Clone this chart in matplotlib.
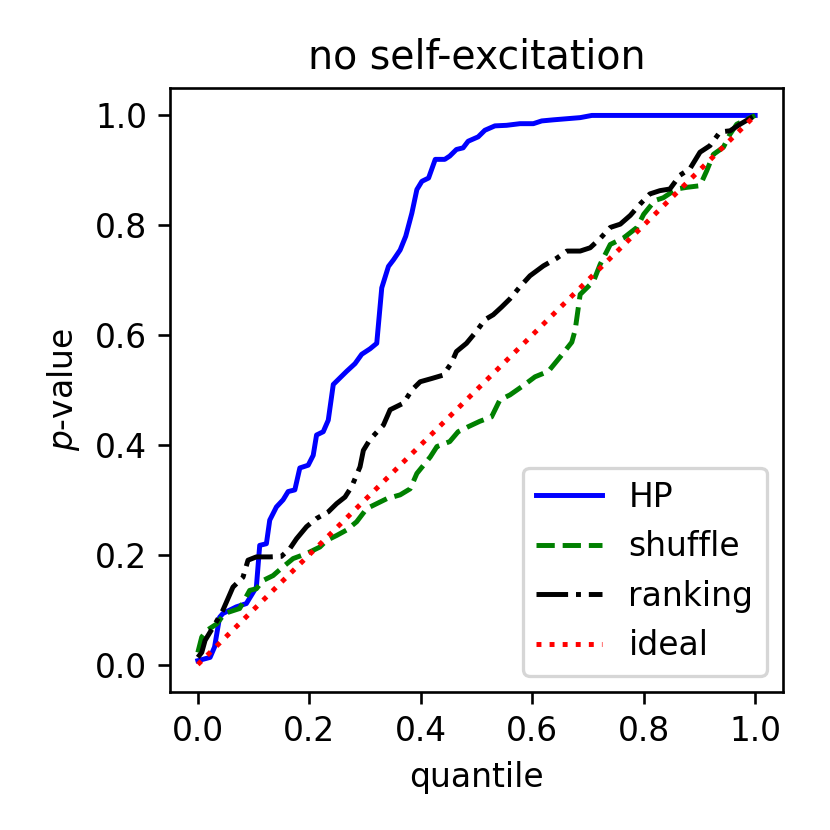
import numpy as np
import matplotlib
matplotlib.use("Agg")
import matplotlib.pyplot as plt

#------------------------------- data ---------------------------

hp_q = [0.0, 0.022, 0.03, 0.039, 0.045, 0.069, 0.087, 0.096, 0.105, 0.111, 0.123,
        0.129, 0.141, 0.153, 0.162, 0.174, 0.183, 0.198, 0.207, 0.213, 0.225, 0.234,
        0.243, 0.255, 0.267, 0.282, 0.294, 0.309, 0.321, 0.33, 0.342, 0.351, 0.363,
        0.373, 0.384, 0.393, 0.402, 0.414, 0.426, 0.443, 0.452, 0.464, 0.476, 0.485,
        0.503, 0.515, 0.533, 0.554, 0.578, 0.602, 0.617, 0.638, 0.662, 0.686, 0.707, 1.0]
hp_p = [0.007, 0.013, 0.032, 0.086, 0.093, 0.105, 0.111, 0.126, 0.141, 0.217, 0.22,
        0.263, 0.287, 0.3, 0.315, 0.318, 0.358, 0.363, 0.381, 0.418, 0.424, 0.445,
        0.51, 0.522, 0.534, 0.548, 0.565, 0.575, 0.585, 0.686, 0.725, 0.737, 0.755,
        0.78, 0.822, 0.865, 0.88, 0.886, 0.92, 0.92, 0.926, 0.938, 0.941, 0.953,
        0.961, 0.973, 0.981, 0.982, 0.985, 0.985, 0.99, 0.992, 0.994, 0.996, 1.0, 1.0]

shuffle_q = [0.0, 0.007, 0.016, 0.034, 0.048, 0.075, 0.093, 0.105, 0.117, 0.135, 0.153,
             0.171, 0.195, 0.219, 0.231, 0.249, 0.267, 0.285, 0.303, 0.321, 0.339, 0.363,
             0.381, 0.393, 0.417, 0.429, 0.452, 0.467, 0.485, 0.506, 0.527, 0.542, 0.56,
             0.584, 0.605, 0.629, 0.65, 0.671, 0.677, 0.686, 0.71, 0.722, 0.74, 0.764,
             0.788, 0.8, 0.82, 0.835, 0.859, 0.877, 0.901, 0.913, 0.925, 0.943, 0.955,
             0.967, 1.0]
shuffle_p = [0.022, 0.05, 0.062, 0.074, 0.093, 0.102, 0.135, 0.138, 0.153, 0.162, 0.178,
             0.193, 0.202, 0.214, 0.226, 0.235, 0.245, 0.26, 0.284, 0.293, 0.302, 0.309,
             0.32, 0.348, 0.378, 0.397, 0.406, 0.424, 0.433, 0.443, 0.451, 0.482, 0.491,
             0.508, 0.524, 0.534, 0.56, 0.587, 0.609, 0.674, 0.698, 0.729, 0.765, 0.777,
             0.796, 0.82, 0.845, 0.85, 0.866, 0.869, 0.872, 0.899, 0.929, 0.942, 0.966,
             0.984, 1.0]

ranking_q = [0.0, 0.007, 0.013, 0.031, 0.045, 0.063, 0.081, 0.09, 0.105, 0.129, 0.15,
             0.165, 0.177, 0.195, 0.213, 0.234, 0.249, 0.264, 0.276, 0.291, 0.297, 0.309,
             0.333, 0.345, 0.369, 0.384, 0.399, 0.42, 0.44, 0.455, 0.464, 0.482, 0.5,
             0.515, 0.53, 0.545, 0.56, 0.578, 0.596, 0.62, 0.644, 0.662, 0.686, 0.704,
             0.722, 0.74, 0.758, 0.776, 0.794, 0.811, 0.829, 0.847, 0.865, 0.883, 0.901,
             0.919, 0.937, 0.955, 0.973, 1.0]
ranking_p = [0.013, 0.022, 0.044, 0.074, 0.099, 0.141, 0.159, 0.19, 0.196, 0.196, 0.197,
             0.211, 0.229, 0.251, 0.266, 0.278, 0.293, 0.305, 0.324, 0.36, 0.39, 0.41,
             0.436, 0.464, 0.476, 0.5, 0.515, 0.521, 0.527, 0.549, 0.57, 0.585, 0.607,
             0.628, 0.637, 0.651, 0.666, 0.688, 0.708, 0.726, 0.74, 0.753, 0.753, 0.759,
             0.776, 0.796, 0.802, 0.818, 0.839, 0.857, 0.863, 0.866, 0.891, 0.903, 0.933,
             0.945, 0.97, 0.972, 0.984, 1.0]

ideal_q = [0.0, 1.0]
ideal_p = [0.0, 1.0]

#------------------------------- figure ----------------------------------------------

fig = plt.figure(figsize=(830 / 237, 830 / 237), dpi=237)
ax = fig.add_axes([0.2048, 0.1663, 0.7386, 0.7277])

ax.plot(hp_q, hp_p, color="blue", linestyle="-", label="HP")
ax.plot(shuffle_q, shuffle_p, color="green", linestyle="--", label="shuffle")
ax.plot(ranking_q, ranking_p, color="black", linestyle="-.", label="ranking")
ax.plot(ideal_q, ideal_p, color="red", linestyle=":", label="ideal")

ax.set_title("no self-excitation")
ax.set_xlabel("quantile")
ax.set_ylabel("$p$-value")
ax.legend(loc="lower right")

fig.savefig("out.png", dpi=237)
